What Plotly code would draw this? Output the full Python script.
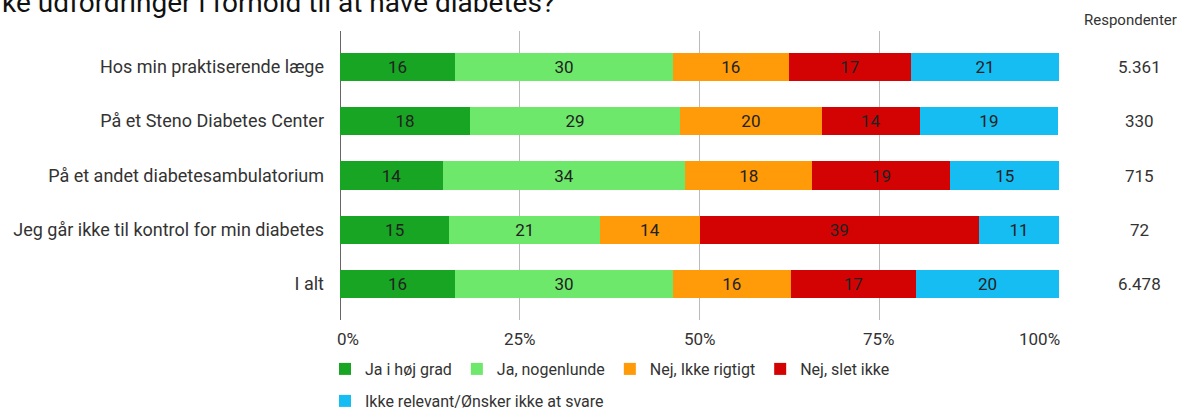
import plotly.graph_objects as go

# categories top to bottom
steder = [
    "Hos min praktiserende læge",
    "På et Steno Diabetes Center",
    "På et andet diabetesambulatorium",
    "Jeg går ikke til kontrol for min diabetes",
    "I alt",
]
respondenter = ["5.361", "330", "715", "72", "6.478"]

# shares in percent
ja_hoej = [16.0, 18.1, 14.3, 15.2, 16.0]
ja_nogenlunde = [30.3, 29.2, 33.7, 21.0, 30.3]
nej_ikke_rigtigt = [16.1, 19.7, 17.7, 13.8, 16.4]
nej_slet_ikke = [17.0, 13.6, 19.2, 38.9, 17.4]
ikke_relevant = [20.6, 19.3, 15.1, 11.1, 19.9]

akse_vaerdier = [0, 25, 50, 75, 100]
akse_tekst = ["0%", "25%", "50%", "75%", "100%"]

series = [
    ("Ja i høj grad", ja_hoej, "#17a523", "legend"),
    ("Ja, nogenlunde", ja_nogenlunde, "#6ee86b", "legend"),
    ("Nej, Ikke rigtigt", nej_ikke_rigtigt, "#ff9a08", "legend"),
    ("Nej, slet ikke", nej_slet_ikke, "#d30303", "legend"),
    ("Ikke relevant/Ønsker ikke at svare", ikke_relevant, "#16bdf3", "legend2"),
]

fig = go.Figure()
for name, vals, col, leg in series:
    fig.add_trace(go.Bar(
        y=steder, x=vals, name=name, orientation="h",
        marker=dict(color=col, line=dict(width=0)),
        text=vals, texttemplate="%{x:.0f}", textposition="inside",
        insidetextanchor="middle", textangle=0,
        insidetextfont=dict(color="#222222", size=17),
        legend=leg,
    ))

# x axis labels, end labels pulled inside like the original
for v, t in zip(akse_vaerdier, akse_tekst):
    anchor = "left" if v == 0 else ("right" if v == 100 else "center")
    shift = -5 if v == 0 else (3 if v == 100 else 0)
    fig.add_annotation(x=v, y=0, xref="x", yref="paper", text=t, showarrow=False,
                       xanchor=anchor, yanchor="middle", xshift=shift, yshift=-19,
                       font=dict(size=17, color="#333333"))

# Respondenter column
for s, n in zip(steder, respondenter):
    fig.add_annotation(x=(1139 - 340) / 719, y=s, xref="paper", yref="y", text=n,
                       xanchor="center", showarrow=False,
                       font=dict(size=17, color="#333333"))
fig.add_annotation(x=(1130 - 340) / 719, y=1, xref="paper", yref="paper",
                   text="Respondenter", showarrow=False, xanchor="center",
                   yanchor="middle", yshift=11,
                   font=dict(size=15, color="#333333"))

# title, partly cut off at the top
fig.add_annotation(x=-340 / 719, y=1, xref="paper", yref="paper",
                   text="ke udfordringer i forhold til at have diabetes?",
                   xanchor="left", yanchor="middle", yshift=29, showarrow=False,
                   font=dict(size=28, color="#111111"))

fig.update_layout(
    width=1195, height=411,
    margin=dict(l=340, r=136, t=31, b=91),
    barmode="stack", bargap=0.48,
    plot_bgcolor="white", paper_bgcolor="white",
    font=dict(family="Roboto", size=16, color="#333333"),
    uniformtext=dict(minsize=10, mode="show"),
    xaxis=dict(range=[0, 100], tickvals=akse_vaerdier, showticklabels=False,
               showgrid=True, gridcolor="#bbbbbb", gridwidth=1,
               zeroline=True, zerolinecolor="#666666", zerolinewidth=1,
               ticks="", fixedrange=True),
    yaxis=dict(categoryorder="array", categoryarray=steder,
               range=[4.66, -0.66], ticks="", ticklabelstandoff=15,
               tickfont=dict(size=18, color="#333333"), showgrid=False),
    legend=dict(orientation="h", xref="container", yref="container",
                x=325 / 1195, xanchor="left", y=1 - 352 / 411, yanchor="top",
                font=dict(size=16, color="#333333"), itemwidth=30,
                traceorder="normal", bgcolor="rgba(0,0,0,0)"),
    legend2=dict(orientation="h", xref="container", yref="container",
                 x=325 / 1195, xanchor="left", y=1 - 384 / 411, yanchor="top",
                 font=dict(size=16, color="#333333"), itemwidth=30,
                 bgcolor="rgba(0,0,0,0)"),
)

fig.write_html("out.html", config={"displayModeBar": False},
               post_script="document.body.style.margin='0';")
